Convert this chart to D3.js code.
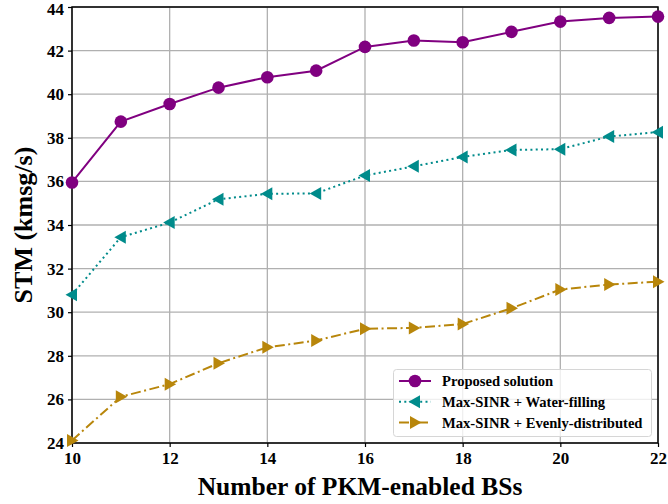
<!DOCTYPE html>
<html>
<head>
<meta charset="utf-8">
<script src="https://cdn.jsdelivr.net/npm/d3@7"></script>
<style>
  body { margin: 0; background: #fff; }
  svg text { font-family: "Liberation Serif", "Times New Roman", serif; font-weight: bold; }
</style>
</head>
<body>
<div id="chart"></div>
<script>
// data
var bsCount = [10, 11, 12, 13, 14, 15, 16, 17, 18, 19, 20, 21, 22];
var proposed = [35.95, 38.74, 39.55, 40.30, 40.78, 41.08, 42.17, 42.46, 42.38, 42.86, 43.33, 43.50, 43.56];
var waterFilling = [30.80, 33.44, 34.11, 35.18, 35.43, 35.45, 36.27, 36.69, 37.12, 37.44, 37.48, 38.06, 38.26];
var evenly = [24.12, 26.12, 26.70, 27.66, 28.39, 28.70, 29.24, 29.28, 29.46, 30.18, 31.04, 31.27, 31.40];
var xTicks = [10, 12, 14, 16, 18, 20, 22];
var yTicks = [24, 26, 28, 30, 32, 34, 36, 38, 40, 42, 44];
var seriesNames = ["Proposed solution", "Max-SINR + Water-filling", "Max-SINR + Evenly-distributed"];

function start(){
    var width = 668, height = 504;
    var margin = {top: 7, right: 10, bottom: 61, left: 72};

    var svg = d3.select("#chart").append("svg")
        .attr("width", width)
        .attr("height", height);

    var xScale = d3.scaleLinear()
        .domain([10, 22])
        .range([margin.left, width - margin.right]);
    var yScale = d3.scaleLinear()
        .domain([24, 44])
        .range([height - margin.bottom, margin.top]);

    // grid
    var grid = svg.append("g").attr("class", "grid");
    grid.selectAll("line.gx")
        .data(xTicks)
        .enter()
        .append("line")
        .attr("x1", d => xScale(d)).attr("x2", d => xScale(d))
        .attr("y1", yScale(24)).attr("y2", yScale(44))
        .attr("stroke", "#b0b0b0").attr("stroke-width", 1.3);
    grid.selectAll("line.gy")
        .data(yTicks)
        .enter()
        .append("line")
        .attr("y1", d => yScale(d)).attr("y2", d => yScale(d))
        .attr("x1", xScale(10)).attr("x2", xScale(22))
        .attr("stroke", "#b0b0b0").attr("stroke-width", 1.3);

    // axes
    var xAxis = svg.append("g")
        .attr("transform", `translate(0,${yScale(24)})`)
        .call(d3.axisBottom(xScale).tickValues(xTicks).tickSize(4).tickPadding(5));
    var yAxis = svg.append("g")
        .attr("transform", `translate(${xScale(10)},0)`)
        .call(d3.axisLeft(yScale).tickValues(yTicks).tickSize(4).tickPadding(4));
    [xAxis, yAxis].forEach(function(ax){
        ax.select(".domain").remove();
        ax.selectAll(".tick line").attr("stroke", "#000").attr("stroke-width", 1.2);
        ax.selectAll(".tick text")
          .attr("fill", "#000")
          .style("font-size", "17px");
    });
    // keep the top label inside the page
    yAxis.selectAll(".tick text").filter(d => d === 44).attr("dy", "0.45em");

    // frame
    svg.append("rect")
        .attr("x", xScale(10)).attr("y", yScale(44))
        .attr("width", xScale(22) - xScale(10))
        .attr("height", yScale(24) - yScale(44))
        .attr("fill", "none")
        .attr("stroke", "#000")
        .attr("stroke-width", 1.5);

    var series = [
        {name: seriesNames[0], values: proposed, color: "#800080", dash: null, marker: "circle"},
        {name: seriesNames[1], values: waterFilling, color: "#008b8b", dash: "2,3.3", marker: "left"},
        {name: seriesNames[2], values: evenly, color: "#b8860b", dash: "10,3.5,2,3.5", marker: "right"}
    ];

    function markerPath(type){
        if (type === "left") return "M-6.5,0L5,-6.5L5,6.5Z";
        if (type === "right") return "M6.5,0L-5,-6.5L-5,6.5Z";
        return null;
    }

    function drawMarker(g, type, color, x, y){
        if (type === "circle") {
            g.append("circle").attr("cx", x).attr("cy", y).attr("r", 6.3).attr("fill", color);
        } else {
            g.append("path").attr("d", markerPath(type))
             .attr("transform", `translate(${x},${y})`)
             .attr("fill", color);
        }
    }

    var line = d3.line()
        .x(d => xScale(d[0]))
        .y(d => yScale(d[1]));

    var plot = svg.append("g");
    series.forEach(function(s){
        var pts = bsCount.map((b, i) => [b, s.values[i]]);
        plot.append("path")
            .datum(pts)
            .attr("d", line)
            .attr("fill", "none")
            .attr("stroke", s.color)
            .attr("stroke-width", 2)
            .attr("stroke-dasharray", s.dash);
        pts.forEach(function(p){
            drawMarker(plot, s.marker, s.color, xScale(p[0]), yScale(p[1]));
        });
    });

    // legend
    var lg = svg.append("g");
    lg.append("rect")
        .attr("x", 393.5).attr("y", 369.5)
        .attr("width", 258).attr("height", 67)
        .attr("rx", 3)
        .attr("fill", "rgba(255,255,255,0.8)")
        .attr("stroke", "#d6d6d6")
        .attr("stroke-width", 1);
    var rowY = [381, 401.7, 422.4];
    series.forEach(function(s, i){
        lg.append("line")
            .attr("x1", 399).attr("x2", 431)
            .attr("y1", rowY[i]).attr("y2", rowY[i])
            .attr("stroke", s.color)
            .attr("stroke-width", 2)
            .attr("stroke-dasharray", s.dash);
        drawMarker(lg, s.marker, s.color, 415, rowY[i]);
        lg.append("text")
            .attr("x", 442)
            .attr("y", rowY[i])
            .attr("dy", "0.35em")
            .style("font-size", "14.6px")
            .text(s.name);
    });

    // axis labels
    svg.append("text")
        .attr("x", 360)
        .attr("y", 495)
        .attr("text-anchor", "middle")
        .style("font-size", "25.5px")
        .text("Number of PKM-enabled BSs");

    svg.append("text")
        .attr("transform", `translate(32,${(yScale(24) + yScale(44)) / 2}) rotate(-90)`)
        .attr("text-anchor", "middle")
        .style("font-size", "26px")
        .text("STM (kmsg/s)");
}

start();
</script>
</body>
</html>
